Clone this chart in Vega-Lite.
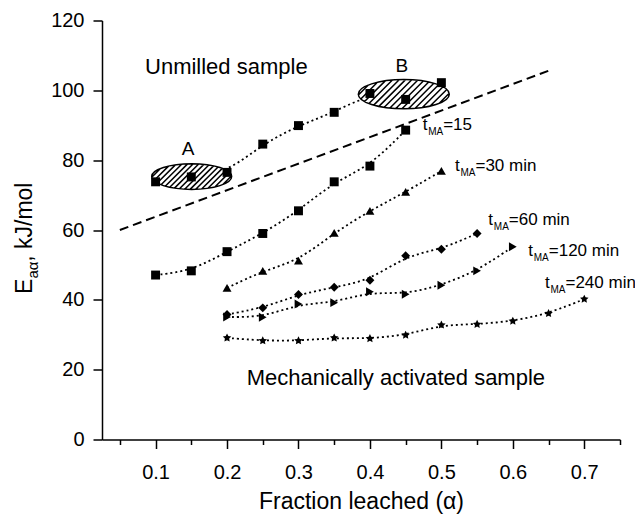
{
  "$schema": "https://vega.github.io/schema/vega-lite/v6.json",
  "width": 518,
  "height": 419,
  "autosize": {"type": "none"},
  "padding": {"left": 102, "top": 20.5, "right": 15, "bottom": 80.5},
  "config": {
    "view": {"stroke": null},
    "font": "Liberation Sans",
    "axis": {
      "domainColor": "black", "tickColor": "black", "labelColor": "black", "titleColor": "black",
      "domainWidth": 1.5, "tickWidth": 1.5, "labelFont": "Liberation Sans", "labelFontSize": 20,
      "titleFont": "Liberation Sans", "titleFontSize": 23, "titleFontWeight": "normal", "grid": false,
      "labelOverlap": false, "labelFlush": false
    }
  },
  "datasets": {
    "pts": [
      {"series": "Unmilled", "x": 0.1, "y": 73.8}, {"series": "Unmilled", "x": 0.15, "y": 75.2}, {"series": "Unmilled", "x": 0.2, "y": 76.5},
      {"series": "Unmilled", "x": 0.25, "y": 84.6}, {"series": "Unmilled", "x": 0.3, "y": 89.9}, {"series": "Unmilled", "x": 0.35, "y": 93.7},
      {"series": "Unmilled", "x": 0.4, "y": 99.1}, {"series": "Unmilled", "x": 0.45, "y": 97.4}, {"series": "Unmilled", "x": 0.5, "y": 102.2},
      {"series": "15", "x": 0.1, "y": 47.1}, {"series": "15", "x": 0.15, "y": 48.3}, {"series": "15", "x": 0.2, "y": 53.8},
      {"series": "15", "x": 0.25, "y": 59.0}, {"series": "15", "x": 0.3, "y": 65.5}, {"series": "15", "x": 0.35, "y": 73.8},
      {"series": "15", "x": 0.4, "y": 78.3}, {"series": "15", "x": 0.45, "y": 88.6},
      {"series": "30", "x": 0.2, "y": 43.4}, {"series": "30", "x": 0.25, "y": 48.3}, {"series": "30", "x": 0.3, "y": 51.2},
      {"series": "30", "x": 0.35, "y": 59.2}, {"series": "30", "x": 0.4, "y": 65.5}, {"series": "30", "x": 0.45, "y": 70.9},
      {"series": "30", "x": 0.5, "y": 76.9},
      {"series": "60", "x": 0.2, "y": 35.8}, {"series": "60", "x": 0.25, "y": 37.7}, {"series": "60", "x": 0.3, "y": 41.5},
      {"series": "60", "x": 0.35, "y": 43.6}, {"series": "60", "x": 0.4, "y": 45.6}, {"series": "60", "x": 0.45, "y": 52.6},
      {"series": "60", "x": 0.5, "y": 54.5}, {"series": "60", "x": 0.55, "y": 59.0},
      {"series": "120", "x": 0.2, "y": 35.1}, {"series": "120", "x": 0.25, "y": 35.0}, {"series": "120", "x": 0.3, "y": 38.8},
      {"series": "120", "x": 0.35, "y": 39.2}, {"series": "120", "x": 0.4, "y": 42.3}, {"series": "120", "x": 0.45, "y": 41.6},
      {"series": "120", "x": 0.5, "y": 44.2}, {"series": "120", "x": 0.55, "y": 48.3}, {"series": "120", "x": 0.6, "y": 55.2},
      {"series": "240", "x": 0.2, "y": 29.1}, {"series": "240", "x": 0.25, "y": 28.3}, {"series": "240", "x": 0.3, "y": 28.3},
      {"series": "240", "x": 0.35, "y": 29.1}, {"series": "240", "x": 0.4, "y": 28.9}, {"series": "240", "x": 0.45, "y": 29.9},
      {"series": "240", "x": 0.5, "y": 32.8}, {"series": "240", "x": 0.55, "y": 33.0}, {"series": "240", "x": 0.6, "y": 33.9},
      {"series": "240", "x": 0.65, "y": 36.1}, {"series": "240", "x": 0.7, "y": 40.2}
    ],
    "dash": [{"x": 0.05, "y": 60}, {"x": 0.655, "y": 106}],
    "ellipses": [{"label": "A", "x": 0.1505, "y": 75.3}, {"label": "B", "x": 0.4474, "y": 98.9}],
    "letters": [{"t": "A", "x": 0.1454, "y": 81.5}, {"t": "B", "x": 0.4445, "y": 105.3}],
    "samples": [{"t": "Unmilled sample", "x": 0.0852, "y": 104.7}, {"t": "Mechanically activated sample", "x": 0.2275, "y": 15.6}],
    "tma": [
      {"x": 0.4738, "y": 88.6, "rest": "=15"},
      {"x": 0.519, "y": 76.9, "rest": "=30 min"},
      {"x": 0.5657, "y": 61.4, "rest": "=60 min"},
      {"x": 0.6216, "y": 52.6, "rest": "=120 min"},
      {"x": 0.645, "y": 43.4, "rest": "=240 min"}
    ],
    "ytitle": [{"x": -0.0723, "y": 41.7, "t": "E"}, {"x": -0.0723, "y": 50.9, "t": ", kJ/mol"}],
    "ytitlesub": [{"x": -0.0646, "y": 46.1, "t": "aα"}]
  },
  "resolve": {"scale": {"size": "independent", "shape": "independent"}, "axis": {"x": "independent"}},
  "layer": [
    {
      "data": {"name": "pts"},
      "mark": {"type": "line", "interpolate": "basis", "strokeDash": [2, 3], "strokeWidth": 1.8, "color": "black"},
      "encoding": {
        "x": {"field": "x", "type": "quantitative", "scale": {"domain": [0.025, 0.75], "nice": false, "zero": false},
          "axis": {"orient": "bottom", "values": [0.1, 0.2, 0.3, 0.4, 0.5, 0.6, 0.7], "format": ".1f",
            "tickSize": 9, "labelPadding": 14, "title": "Fraction leached (α)", "titlePadding": 8}},
        "y": {"field": "y", "type": "quantitative", "scale": {"domain": [0, 120], "nice": false},
          "axis": {"orient": "left", "values": [0, 10, 20, 30, 40, 50, 60, 70, 80, 90, 100, 110, 120],
            "labelExpr": "datum.value % 20 === 0 ? datum.label : ''",
            "tickDash": {"condition": {"test": "datum.value % 20 !== 0", "value": [5, 30]}, "value": [20, 0]},
            "tickSize": 9, "labelPadding": 9, "title": null}},
        "detail": {"field": "series"}
      }
    },
    {
      "data": {"name": "dash"},
      "mark": {"type": "line", "strokeDash": [9, 5], "strokeWidth": 2, "color": "black"},
      "encoding": {
        "x": {"field": "x", "type": "quantitative", "axis": null},
        "y": {"field": "y", "type": "quantitative"}
      }
    },
    {
      "data": {"name": "ellipses"},
      "mark": {"type": "point", "fill": "white", "stroke": "black", "strokeWidth": 1.5, "opacity": 1,
        "shape": "M-1,0A1,0.32,0,1,0,1,0A1,0.32,0,1,0,-1,0ZM0.7796,0.2004L0.9984,-0.0184M0.5791,0.2609L0.9448,-0.1048M0.4078,0.2922L0.8621,-0.1621M0.2502,0.3098L0.7658,-0.2058M0.1017,0.3183L0.6603,-0.2403M-0.0397,0.3197L0.5477,-0.2677M-0.175,0.315L0.429,-0.289M-0.3048,0.3048L0.3048,-0.3048M-0.429,0.289L0.175,-0.315M-0.5477,0.2677L0.0397,-0.3197M-0.6603,0.2403L-0.1017,-0.3183M-0.7658,0.2058L-0.2502,-0.3098M-0.8621,0.1621L-0.4078,-0.2922M-0.9448,0.1048L-0.5791,-0.2609M-0.9984,0.0184L-0.7796,-0.2004"},
      "encoding": {
        "x": {"field": "x", "type": "quantitative", "axis": null},
        "y": {"field": "y", "type": "quantitative"},
        "size": {"field": "label", "type": "nominal", "scale": {"domain": ["A", "B"], "range": [6400, 8281]}, "legend": null}
      }
    },
    {
      "data": {"name": "pts"},
      "mark": {"type": "point", "filled": true, "color": "black", "opacity": 1},
      "encoding": {
        "x": {"field": "x", "type": "quantitative",
          "axis": {"orient": "bottom", "values": [0.05, 0.15, 0.25, 0.35, 0.45, 0.55, 0.65, 0.75], "tickSize": 5, "labels": false, "domain": false, "title": null}},
        "y": {"field": "y", "type": "quantitative"},
        "shape": {"field": "series", "type": "nominal", "legend": null,
          "scale": {"domain": ["Unmilled", "15", "30", "60", "120", "240"], "range": ["square", "square", "triangle-up", "diamond", "triangle-right", "M0,-1L0.2939,-0.4045L0.9511,-0.309L0.4755,0.1545L0.5878,0.809L0,0.5L-0.5878,0.809L-0.4755,0.1545L-0.9511,-0.309L-0.2939,-0.4045Z"]}},
        "size": {"field": "series", "type": "nominal", "legend": null,
          "scale": {"domain": ["Unmilled", "15", "30", "60", "120", "240"], "range": [80, 80, 170, 150, 160, 250]}}
      }
    },
    {
      "data": {"name": "samples"},
      "mark": {"type": "text", "align": "left", "baseline": "alphabetic", "fontSize": 22, "fill": "black", "font": "Liberation Sans"},
      "encoding": {
        "x": {"field": "x", "type": "quantitative", "axis": null},
        "y": {"field": "y", "type": "quantitative"},
        "text": {"field": "t"}
      }
    },
    {
      "data": {"name": "letters"},
      "mark": {"type": "text", "align": "center", "baseline": "alphabetic", "fontSize": 19, "fill": "black", "font": "Liberation Sans"},
      "encoding": {
        "x": {"field": "x", "type": "quantitative", "axis": null},
        "y": {"field": "y", "type": "quantitative"},
        "text": {"field": "t"}
      }
    },
    {
      "data": {"name": "tma"},
      "mark": {"type": "text", "align": "left", "baseline": "alphabetic", "fontSize": 17, "fill": "black", "font": "Liberation Sans", "text": "t"},
      "encoding": {
        "x": {"field": "x", "type": "quantitative", "axis": null},
        "y": {"field": "y", "type": "quantitative"}
      }
    },
    {
      "data": {"name": "tma"},
      "mark": {"type": "text", "align": "left", "baseline": "alphabetic", "fontSize": 10, "fill": "black", "font": "Liberation Sans", "text": "MA", "dx": 5.5, "dy": 5},
      "encoding": {
        "x": {"field": "x", "type": "quantitative", "axis": null},
        "y": {"field": "y", "type": "quantitative"}
      }
    },
    {
      "data": {"name": "tma"},
      "mark": {"type": "text", "align": "left", "baseline": "alphabetic", "fontSize": 17, "fill": "black", "font": "Liberation Sans", "dx": 20.5},
      "encoding": {
        "x": {"field": "x", "type": "quantitative", "axis": null},
        "y": {"field": "y", "type": "quantitative"},
        "text": {"field": "rest"}
      }
    },
    {
      "data": {"name": "ytitle"},
      "mark": {"type": "text", "align": "left", "baseline": "alphabetic", "angle": 270, "fontSize": 23, "fill": "black", "font": "Liberation Sans"},
      "encoding": {
        "x": {"field": "x", "type": "quantitative", "axis": null},
        "y": {"field": "y", "type": "quantitative"},
        "text": {"field": "t"}
      }
    },
    {
      "data": {"name": "ytitlesub"},
      "mark": {"type": "text", "align": "left", "baseline": "alphabetic", "angle": 270, "fontSize": 15, "fill": "black", "font": "Liberation Sans"},
      "encoding": {
        "x": {"field": "x", "type": "quantitative", "axis": null},
        "y": {"field": "y", "type": "quantitative"},
        "text": {"field": "t"}
      }
    }
  ]
}
